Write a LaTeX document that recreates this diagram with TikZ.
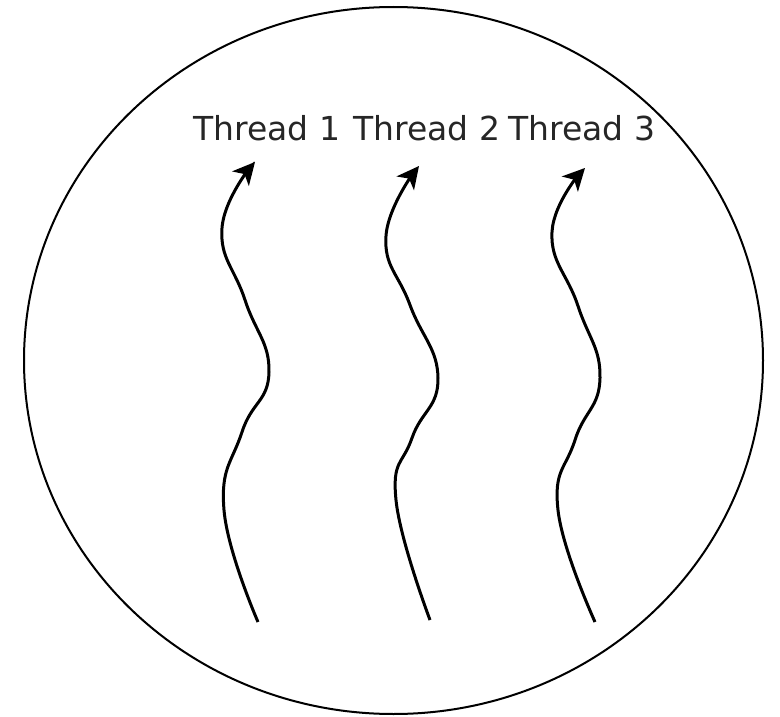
\documentclass[tikz,border=0pt]{standalone}
\usepackage{fontspec}
\setmainfont{DejaVu Sans}
\usetikzlibrary{arrows.meta}
\usetikzlibrary{shapes.geometric}

\tikzset{
  thread/.style={line width=3pt, -{Stealth[length=22pt, width=22pt, inset=6pt]}},
  threadlabel/.style={anchor=base west, inner sep=0pt, font=\fontsize{33}{40}\selectfont, text=black!85},
}

\begin{document}
\begin{tikzpicture}[x=1pt, y=-1pt]
			\useasboundingbox (0,0) rectangle (780,717);
			% Process
			\node[draw, ellipse, line width=2pt, minimum width=739pt, minimum height=707pt, inner sep=0pt] (process) at (393.5,360.5) {};
			% Labels
			\node[threadlabel] (label1) at (193,140) {Thread 1};
			\node[threadlabel] (label2) at (353,140) {Thread 2};
			\node[threadlabel] (label3) at (508,140) {Thread 3};
			% Threads
			\coordinate (start1) at (258,622);
			\coordinate (tip1) at (255,162);
			\coordinate (start2) at (430,620);
			\coordinate (tip2) at (419,166);
			\coordinate (start3) at (595,622);
			\coordinate (tip3) at (585,168);
			\draw[thread] plot[smooth, tension=0.8] coordinates {(start1) (224,510) (242,432) (269,372) (245,300) (222,228) (tip1)};
			\draw[thread] plot[smooth, tension=0.8] coordinates {(start2) (396,500) (412,438) (438,378) (410,305) (386,236) (tip2)};
			\draw[thread] plot[smooth, tension=0.8] coordinates {(start3) (558,510) (575,440) (600,378) (578,306) (552,232) (tip3)};
		\end{tikzpicture}
\end{document}
